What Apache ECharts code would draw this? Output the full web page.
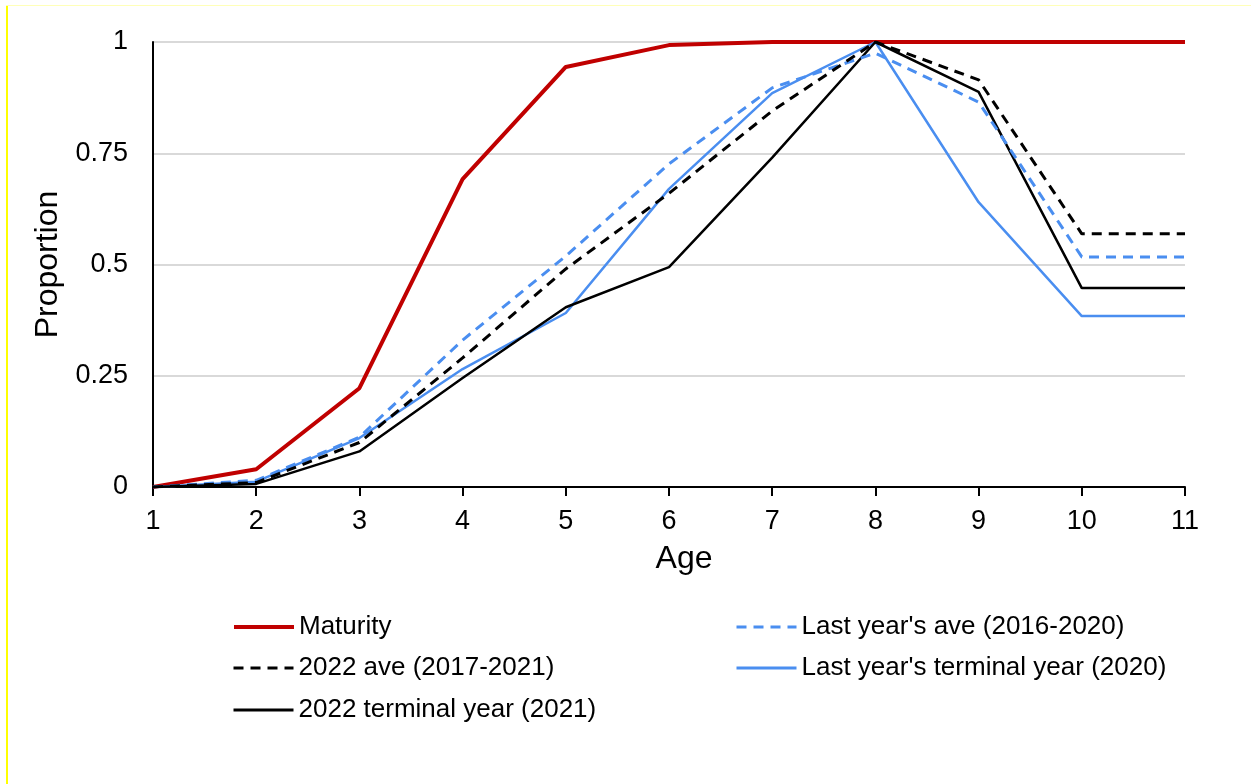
<!DOCTYPE html>
<html>
<head>
<meta charset="utf-8">
<script src="https://cdn.jsdelivr.net/npm/echarts@6/dist/echarts.min.js"></script>
<style>
html,body{margin:0;padding:0;background:#fff;}
#chart{width:1251px;height:784px;}
</style>
</head>
<body>
<div id="chart"></div>
<script>
const ages = [1, 2, 3, 4, 5, 6, 7, 8, 9, 10, 11];
const yTicks = [0, 0.25, 0.5, 0.75, 1];
const maturity = [0, 0.04, 0.222, 0.692, 0.944, 0.993, 1.0, 1.0, 1.0, 1.0, 1.0];
const lastYearAve = [0, 0.015, 0.112, 0.33, 0.519, 0.726, 0.897, 0.975, 0.865, 0.517, 0.517];
const ave2022 = [0, 0.01, 0.1, 0.29, 0.49, 0.66, 0.845, 1.0, 0.915, 0.569, 0.569];
const lastYearTerminal = [0, 0.012, 0.11, 0.265, 0.391, 0.67, 0.885, 1.0, 0.64, 0.384, 0.384];
const terminal2022 = [0, 0.007, 0.08, 0.245, 0.404, 0.494, 0.74, 1.0, 0.888, 0.447, 0.447];

const names = {
  mat: 'Maturity',
  lya: "Last year's ave (2016-2020)",
  a22: '2022 ave (2017-2021)',
  lyt: "Last year's terminal year (2020)",
  t22: '2022 terminal year (2021)'
};

function pairs(vals) { return ages.map((a, i) => [a, vals[i]]); }

const FONT = '"Liberation Sans", Arial, sans-serif';
const legendText = { fontFamily: FONT, fontSize: 26, color: '#000' };

function legendAt(name, left, top, lw) {
  return {
    data: [name], left: left, top: top, orient: 'horizontal',
    itemWidth: 60, itemHeight: 14, padding: 0,
    itemStyle: { opacity: 0 },
    lineStyle: { width: lw },
    textStyle: legendText, selectedMode: false
  };
}

const chart = echarts.init(document.getElementById('chart'), null, { renderer: 'canvas' });
chart.setOption({
  backgroundColor: '#fff',
  animation: false,
  graphic: [
    { type: 'rect', shape: { x: 6, y: 5, width: 2, height: 779 }, style: { fill: '#ffff00' }, silent: true },
    { type: 'rect', shape: { x: 6, y: 5, width: 1245, height: 1 }, style: { fill: '#ffffb8' }, silent: true }
  ],
  grid: { left: 153, right: 66, top: 42, bottom: 297, containLabel: false },
  xAxis: {
    type: 'value', min: 1, max: 11, interval: 1,
    name: 'Age', nameLocation: 'middle', nameGap: 56,
    nameTextStyle: { fontFamily: FONT, fontSize: 32, color: '#000', padding: [0, 0, 0, 30] },
    axisLine: { show: true, lineStyle: { color: '#000', width: 2 } },
    axisTick: { show: true, length: 9, lineStyle: { color: '#000', width: 2 } },
    axisLabel: { fontFamily: FONT, fontSize: 27, color: '#000', margin: 21 },
    splitLine: { show: false }
  },
  yAxis: {
    type: 'value', min: 0, max: 1, interval: 0.25,
    name: 'Proportion', nameLocation: 'middle', nameGap: 86, nameRotate: 90,
    nameTextStyle: { fontFamily: FONT, fontSize: 32, color: '#000' },
    axisLine: { show: true, lineStyle: { color: '#000', width: 2 } },
    axisTick: { show: false },
    axisLabel: { fontFamily: FONT, fontSize: 27, color: '#000', margin: 25,
      formatter: v => String(yTicks.find(t => Math.abs(t - v) < 1e-9) ?? v) },
    splitLine: { show: true, lineStyle: { color: '#d9d9d9', width: 2 } }
  },
  legend: [
    legendAt(names.mat, 232, 614, 4),
    legendAt(names.a22, 232, 655, 3),
    legendAt(names.t22, 232, 697, 3),
    legendAt(names.lya, 735, 614, 3),
    legendAt(names.lyt, 735, 655, 3)
  ],
  series: [
    { name: names.lyt, type: 'line', data: pairs(lastYearTerminal), symbol: 'none',
      lineStyle: { color: '#4a8ef0', width: 2.5 }, itemStyle: { color: '#4a8ef0' } },
    { name: names.t22, type: 'line', data: pairs(terminal2022), symbol: 'none',
      lineStyle: { color: '#000', width: 2.5 }, itemStyle: { color: '#000' } },
    { name: names.lya, type: 'line', data: pairs(lastYearAve), symbol: 'none',
      lineStyle: { color: '#4a8ef0', width: 3, type: [10, 7] }, itemStyle: { color: '#4a8ef0' } },
    { name: names.a22, type: 'line', data: pairs(ave2022), symbol: 'none',
      lineStyle: { color: '#000', width: 3, type: [10, 7] }, itemStyle: { color: '#000' } },
    { name: names.mat, type: 'line', data: pairs(maturity), symbol: 'none', z: 1,
      lineStyle: { color: '#c00000', width: 4 }, itemStyle: { color: '#c00000' } }
  ]
});
</script>
</body>
</html>
